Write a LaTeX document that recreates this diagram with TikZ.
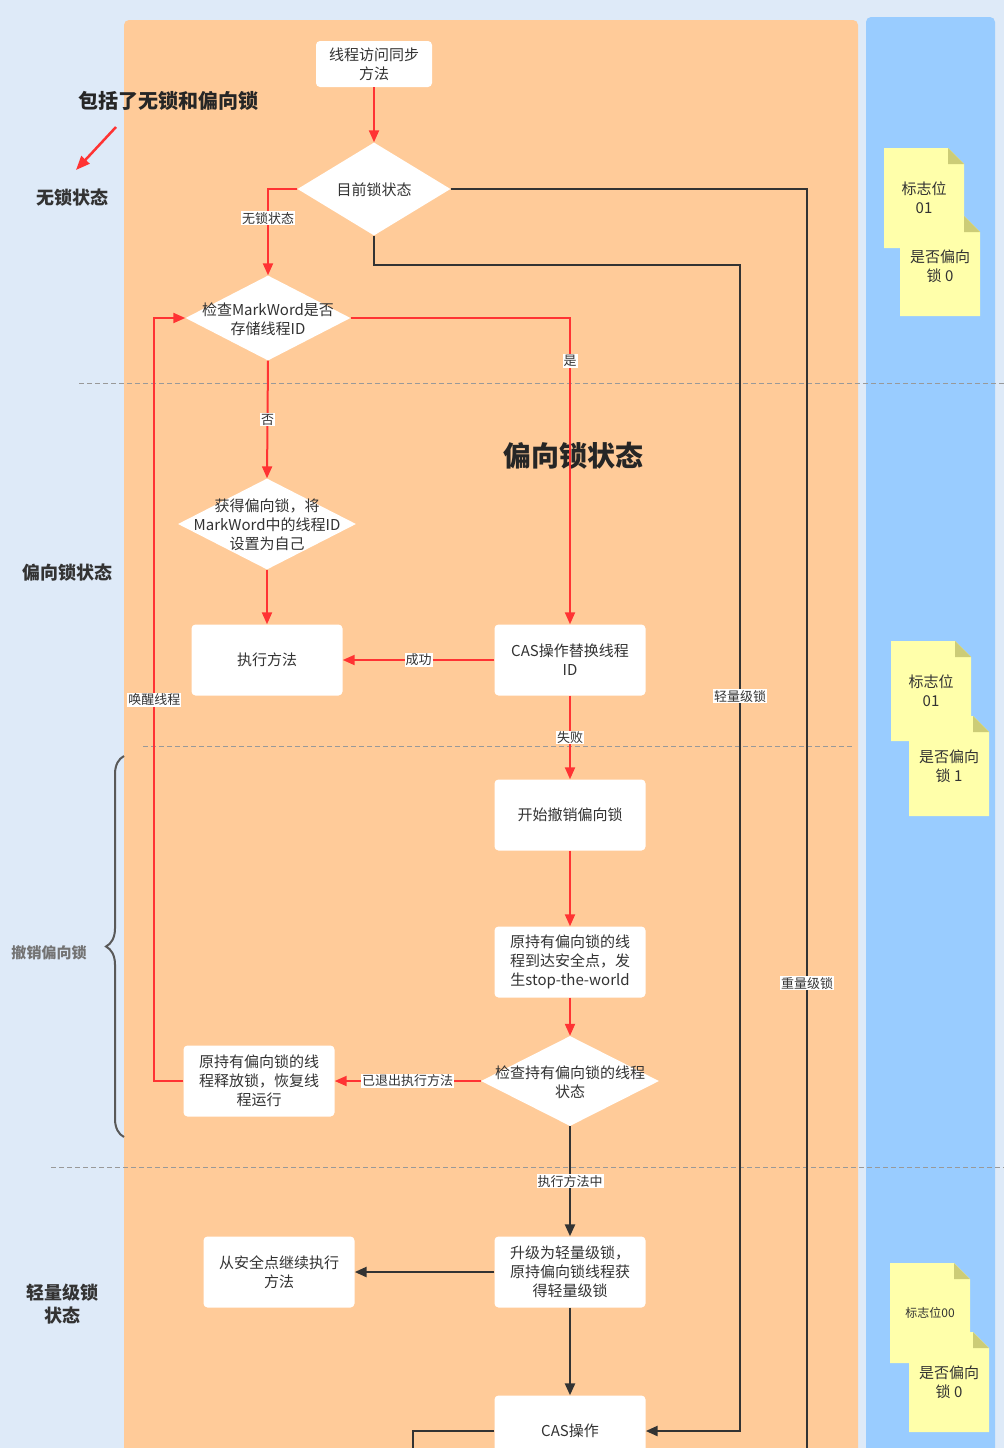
\documentclass[tikz,border=0pt]{standalone}
\usepackage{fontspec}
\setmainfont{Noto Sans CJK SC}
\usetikzlibrary{shapes.geometric, arrows.meta, decorations.pathreplacing}
\definecolor{CBack}{RGB}{222,234,248}
\definecolor{COrange}{RGB}{255,203,153}
\definecolor{CBlue}{RGB}{153,204,255}
\definecolor{CNote}{RGB}{255,255,170}
\definecolor{CFold}{RGB}{204,204,119}
\definecolor{CRed}{RGB}{255,51,51}
\definecolor{CDark}{RGB}{51,51,51}
\newcommand{\dtext}[1]{\smash{\makebox[0pt]{\raisebox{-0.42em}{\begin{tabular}{@{}c@{}}#1\end{tabular}}}}}

\begin{document}
\begin{tikzpicture}[x=1pt, y=-1pt,
    box/.style={rectangle, rounded corners=4pt, fill=white, minimum width=151pt, minimum height=71pt, inner sep=2pt, align=center, text=CDark, font=\fontsize{15}{19}\selectfont},
    dia/.style={diamond, fill=white, inner sep=0pt, text=CDark, font=\fontsize{15}{19}\selectfont},
    lab/.style={fill=white, inner sep=1pt, text=CDark, font=\fontsize{13}{15}\selectfont},
    side/.style={text=CDark, align=center, font=\fontsize{18}{23}\selectfont\bfseries},
    hand/.style={text=black!85, font=\fontsize{20}{24}\selectfont\bfseries},
    memo/.style={text=CDark, align=center, font=\fontsize{15}{19}\selectfont},
    redline/.style={CRed, line width=2pt, -{Triangle[length=12pt, width=10pt]}},
    darkline/.style={CDark, line width=2.5pt, -{Triangle[length=12pt, width=10pt]}},
    stage/.style={black!40, line width=1pt, dash pattern=on 5pt off 3pt}]
    \useasboundingbox (0,0) rectangle (1004,1448);
    \clip (0,0) rectangle (1004,1448);
    \fill [CBack] (0,0) rectangle (1004,1448);
    \fill [COrange, rounded corners=5pt] (124,20) rectangle (858,1470);
    \fill [CBlue, rounded corners=5pt] (866,17) rectangle (995,1470);

    \draw [stage] (79,383) -- (1004,383);
    \draw [stage] (143,746) -- (852,746);
    \draw [stage] (51,1167) -- (1004,1167);

    \fill [CNote] (884,148) -- (948,148) -- (964,164) -- (964,248) -- (884,248) -- cycle;
    \fill [CFold] (948,148) -- (964,164) -- (948,164) -- cycle;
    \node [memo] (flag1) at (924,198) {标志位\\01};
    \fill [CNote] (900,216) -- (964,216) -- (980,232) -- (980,316) -- (900,316) -- cycle;
    \fill [CFold] (964,216) -- (980,232) -- (964,232) -- cycle;
    \node [memo] (bias1) at (940,266) {是否偏向\\锁 0};

    \fill [CNote] (891,641) -- (955,641) -- (971,657) -- (971,741) -- (891,741) -- cycle;
    \fill [CFold] (955,641) -- (971,657) -- (955,657) -- cycle;
    \node [memo] (flag2) at (931,691) {标志位\\01};
    \fill [CNote] (909,716) -- (973,716) -- (989,732) -- (989,816) -- (909,816) -- cycle;
    \fill [CFold] (973,716) -- (989,732) -- (973,732) -- cycle;
    \node [memo] (bias2) at (949,766) {是否偏向\\锁 1};

    \fill [CNote] (890,1263) -- (954,1263) -- (970,1279) -- (970,1363) -- (890,1363) -- cycle;
    \fill [CFold] (954,1263) -- (970,1279) -- (954,1279) -- cycle;
    \node [memo, font=\fontsize{12}{15}\selectfont] (flag3) at (930,1313) {标志位00};
    \fill [CNote] (909,1332) -- (973,1332) -- (989,1348) -- (989,1432) -- (909,1432) -- cycle;
    \fill [CFold] (973,1332) -- (989,1348) -- (973,1348) -- cycle;
    \node [memo] (bias3) at (949,1382) {是否偏向\\锁 0};

    \node [hand] (incl) at (168,101) {包括了无锁和偏向锁};
    \node [hand, font=\fontsize{28}{32}\selectfont\bfseries] (biasbig) at (573,456) {偏向锁状态};
    \coordinate (pa) at (116,127);
    \coordinate (pb) at (76,170);
    \draw [CRed, line width=2.5pt, -{Triangle[length=14pt, width=11pt]}] (pa) -- (pb);

    \node [side] (nolock) at (72,198) {无锁状态};
    \node [side] (biased) at (67,573) {偏向锁状态};
    \node [side, text=black!55, font=\fontsize{15}{19}\selectfont\bfseries] (undo) at (49,953) {撤销偏向锁};
    \node [side] (light) at (62,1304) {轻量级锁\\状态};
    \draw [decorate, decoration={brace, amplitude=18pt}, black!65, line width=2pt] (124,1137) -- (124,756);

    \node [box, minimum width=116pt, minimum height=46pt] (start) at (374,64) {线程访问同步\\方法};
    \node [dia, minimum width=153pt, minimum height=93pt] (state) at (374,189) {\dtext{目前锁状态}};
    \node [dia, minimum width=165pt, minimum height=85pt] (check) at (268,318) {\dtext{检查MarkWord是否\\存储线程ID}};
    \node [dia, minimum width=178pt, minimum height=91pt] (acquire) at (267,524) {\dtext{获得偏向锁，将\\MarkWord中的线程ID\\设置为自己}};
    \node [box] (run) at (267,660) {执行方法};
    \node [box] (cas) at (570,660) {CAS操作替换线程\\ID};
    \node [box] (revoke) at (570,815) {开始撤销偏向锁};
    \node [box] (safepoint) at (570,962) {原持有偏向锁的线\\程到达安全点，发\\生stop-the-world};
    \node [dia, minimum width=178pt, minimum height=90pt] (holder) at (570,1081) {\dtext{检查持有偏向锁的线程\\状态}};
    \node [box] (release) at (259,1081) {原持有偏向锁的线\\程释放锁，恢复线\\程运行};
    \node [box] (upgrade) at (570,1272) {升级为轻量级锁，\\原持偏向锁线程获\\得轻量级锁};
    \node [box] (resume) at (279,1272) {从安全点继续执行\\方法};
    \node [box] (spin) at (570,1431) {CAS操作};

    \coordinate (lightturn) at (740,265);
    \coordinate (heavyend) at (807,1470);
    \coordinate (spinend) at (413,1470);

    \draw [redline] (start) -- (state);
    \draw [redline] (state.west) -| (check.north) node [lab, pos=0.67] {无锁状态};
    \draw [redline] (check.east) -| (cas.north) node [lab, pos=0.57] {是};
    \draw [redline] (check.south) -- (acquire.north) node [lab, midway] {否};
    \draw [redline] (acquire.south) -- (run.north);
    \draw [redline] (cas) -- (run) node [lab, midway] {成功};
    \draw [redline] (cas) -- (revoke) node [lab, midway] {失败};
    \draw [redline] (revoke) -- (safepoint);
    \draw [redline] (safepoint) -- (holder);
    \draw [redline] (holder) -- (release) node [lab, midway] {已退出执行方法};
    \draw [redline] (release.west) -- ++(-29,0) |- (check.west) node [lab, pos=0.25] {唤醒线程};
    \draw [darkline] (holder) -- (upgrade) node [lab, midway] {执行方法中};
    \draw [darkline] (upgrade) -- (resume);
    \draw [darkline] (upgrade) -- (spin);
    \draw [darkline] (state.south) |- (lightturn) |- (spin.east) node [lab, pos=0.185] {轻量级锁};
    \draw [darkline, -] (state.east) -| (heavyend) node [lab, pos=0.81] {重量级锁};
    \draw [darkline, -] (spin.west) -| (spinend);
\end{tikzpicture}
\end{document}
